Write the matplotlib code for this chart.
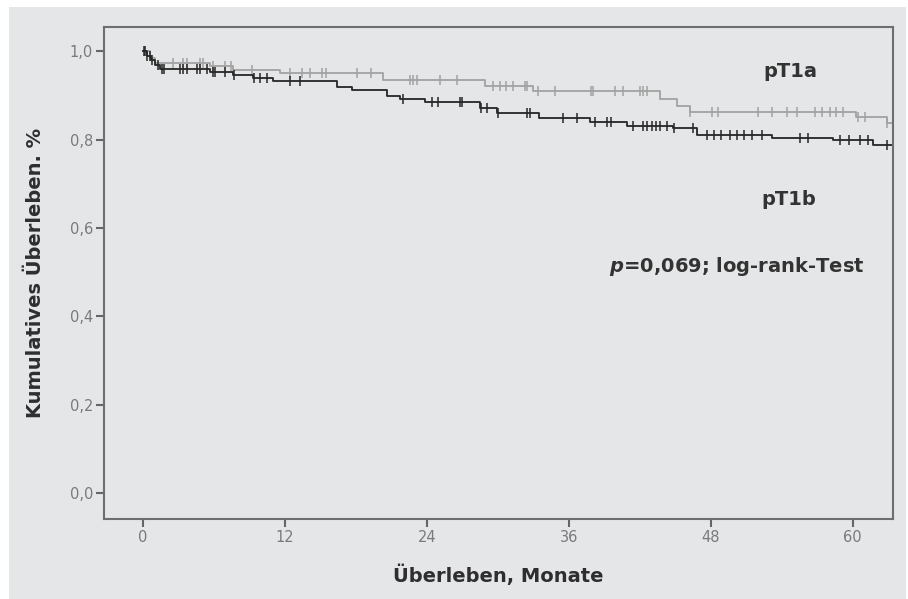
import numpy as np
import matplotlib.pyplot as plt
from matplotlib.patches import Rectangle

plt.rcParams['font.family'] = ['DejaVu Sans']
plt.rcParams['mathtext.fontset'] = 'custom'
plt.rcParams['mathtext.it'] = 'DejaVu Sans:bold:italic'

# step curves (month, survival)
a_t = [0, 0.6, 1.0, 5.7, 7.6, 11.6, 20.3, 28.9, 33.0, 43.7, 45.1, 46.2, 60.3, 62.9, 63.4]
a_s = [1.0, 0.985, 0.974, 0.966, 0.958, 0.951, 0.935, 0.922, 0.909, 0.892, 0.875, 0.863, 0.852, 0.838, 0.838]
b_t = [0, 0.3, 0.7, 1.0, 1.4, 5.7, 7.6, 9.3, 11.0, 16.4, 17.7, 20.6, 21.7, 23.8, 28.5, 29.9,
       33.5, 37.8, 40.9, 44.8, 46.8, 53.2, 58.3, 61.7, 63.4]
b_s = [1.0, 0.99, 0.98, 0.969, 0.961, 0.954, 0.947, 0.940, 0.932, 0.920, 0.913, 0.898, 0.892,
       0.886, 0.872, 0.861, 0.849, 0.839, 0.831, 0.826, 0.811, 0.803, 0.800, 0.788, 0.788]

# censored observations (months)
a_cens = [2.5, 3.4, 3.7, 4.8, 5.1, 5.9, 6.9, 7.4, 9.2, 12.4, 13.4, 14.1, 15.1, 15.5, 18.1, 19.3,
          22.6, 22.8, 23.2, 25.1, 26.5, 29.6, 30.2, 30.7, 31.3, 32.3, 32.5, 33.4, 34.8, 37.9, 38.0,
          39.9, 40.6, 42.0, 42.3, 42.6, 46.2, 48.1, 48.6, 52.0, 53.2, 54.4, 55.3, 56.8, 57.4, 58.1,
          58.6, 59.2, 60.4, 61.0, 62.9]
b_cens = [0.05, 0.15, 0.35, 0.6, 0.8, 1.3, 1.6, 1.75, 3.1, 3.4, 3.7, 4.6, 4.8, 5.4, 5.9, 6.1, 6.9,
          7.7, 9.4, 9.9, 10.5, 12.4, 13.3, 22.0, 24.4, 24.9, 26.8, 27.0, 28.6, 29.1, 30.0, 32.5, 32.7,
          35.5, 36.7, 38.2, 39.2, 39.6, 41.4, 42.3, 42.6, 43.0, 43.4, 43.7, 44.3, 44.9, 46.5, 47.7,
          48.3, 48.9, 49.6, 50.2, 50.8, 51.5, 52.3, 55.5, 56.2, 58.9, 59.7, 60.6, 61.3, 62.9]

xticks = [0, 12, 24, 36, 48, 60]
yticks = [0.0, 0.2, 0.4, 0.6, 0.8, 1.0]
ylabels = ['0,0', '0,2', '0,4', '0,6', '0,8', '1,0']

bg = '#e5e6e8'
fig = plt.figure(figsize=(9.08, 5.99), dpi=100)
fig.patches.append(Rectangle((9 / 908, 0), 897 / 908, 592 / 599, transform=fig.transFigure,
                             facecolor=bg, edgecolor='none', zorder=-10))
ax = fig.add_axes([104 / 908, 1 - 519 / 599, 789 / 908, 492 / 599])
ax.set_facecolor(bg)


def surv_at(t, times, vals):
    i = np.searchsorted(times, t, side='right') - 1
    return np.array(vals)[i]


for tt, ss, cens, col in [(a_t, a_s, a_cens, '#a2a2a2'), (b_t, b_s, b_cens, '#262626')]:
    ax.step(tt, ss, where='post', color=col, lw=1.3)
    ax.plot(cens, surv_at(cens, tt, ss), ls='none', marker='|', ms=7, mew=1.1, color=col)

ax.set_xlim(-3.3, 63.4)
ax.set_ylim(-0.059, 1.055)
ax.set_xticks(xticks)
ax.set_xticklabels([str(x) for x in xticks])
ax.set_yticks(yticks)
ax.set_yticklabels(ylabels)
ax.tick_params(direction='out', length=6, width=1.5, color='#666666', labelcolor='#7a7a7a',
               labelsize=10.5, pad=2)
for sp in ax.spines.values():
    sp.set_color('#6e6e6e')
    sp.set_linewidth(1.5)

ax.set_xlabel('Überleben, Monate', fontsize=14, fontweight='bold', color='#2e2e2e', labelpad=14)
ax.set_ylabel('Kumulatives Überleben. %', fontsize=14, fontweight='bold', color='#2e2e2e', labelpad=18)

ax.text(54.7, 0.954, 'pT1a', fontsize=14, fontweight='bold', color='#333333', ha='center', va='center')
ax.text(54.6, 0.664, 'pT1b', fontsize=14, fontweight='bold', color='#333333', ha='center', va='center')
ax.text(50.2, 0.512, '$p$=0,069; log-rank-Test', fontsize=14, fontweight='bold',
        color='#333333', ha='center', va='center')

fig.savefig('out.png', dpi=100, facecolor='white')
